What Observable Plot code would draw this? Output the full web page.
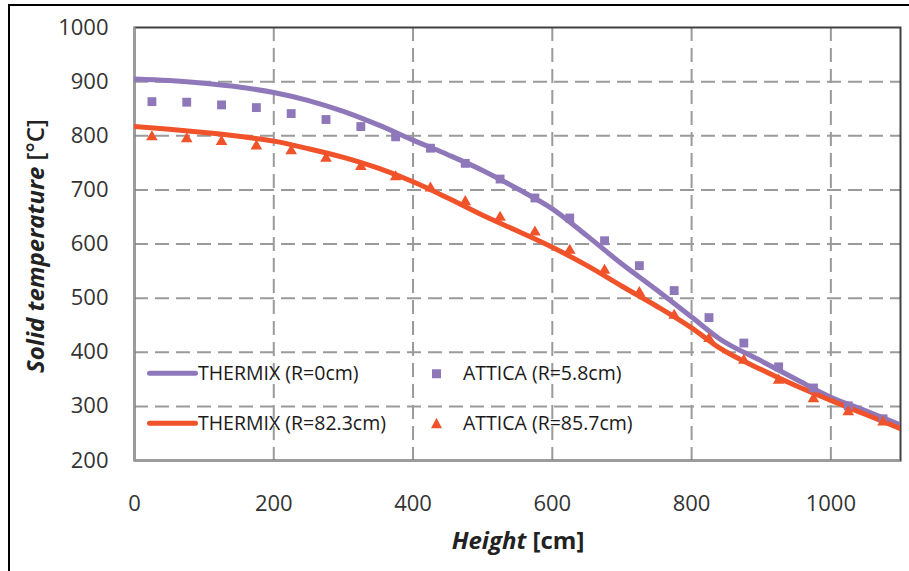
<!DOCTYPE html>
<html><head><meta charset="utf-8">
<script src="https://cdn.jsdelivr.net/npm/d3@7"></script>
<script src="https://cdn.jsdelivr.net/npm/@observablehq/plot@0.6"></script>
<style>
body{margin:0;background:#fff;font-family:"Open Sans",sans-serif;}
#wrap{position:relative;width:909px;height:571px;overflow:hidden;background:#fff;}
#border{position:absolute;left:8px;top:4px;width:1000px;height:1000px;border-left:2.5px solid #000;border-top:2.5px solid #000;box-sizing:border-box;pointer-events:none}
.leg{position:absolute;font-size:19.5px;color:#1a1a1a;line-height:1;white-space:nowrap;display:flex;align-items:center;transform:translateY(-50%);}
.leg svg{display:block}
</style></head><body>
<div id="wrap"><div id="chart"></div><div id="border"></div><div id="legend"></div></div>
<script>
// THERMIX model curves (x = height in cm)
const thermixX    = [0, 50, 100, 150, 200, 250, 300, 350, 400, 450, 500, 550, 600, 650, 700, 750, 800, 840, 900, 950, 1000, 1050, 1100];
const thermixR0   = [905, 902, 897, 890, 880, 865, 845, 820, 792, 765, 736, 702, 665, 615, 563, 515, 465, 425, 384, 350, 317, 292, 266];
const thermixR823 = [817, 812, 806, 799, 790, 776, 760, 740, 715, 685, 653, 624, 594, 560, 522, 485, 445, 408, 368, 338, 311, 285, 259];
// ATTICA points
const atticaX     = [25, 75, 125, 175, 225, 275, 325, 375, 425, 475, 525, 575, 625, 675, 725, 775, 825, 875, 925, 975, 1025, 1075];
const atticaR58   = [863, 862, 857, 852, 841, 830, 817, 798, 777, 749, 720, 685, 648, 606, 560, 514, 464, 417, 373, 334, 301, 277];
const atticaR857  = [798, 794, 789, 781, 772, 758, 743, 724, 703, 678, 649, 622, 588, 551, 510, 468, 425, 385, 348, 314, 290, 271];
const seriesNames = ["THERMIX (R=0cm)", "THERMIX (R=82.3cm)", "ATTICA (R=5.8cm)", "ATTICA (R=85.7cm)"];
const seriesColors = ["#8F78BA", "#F0522A", "#8F78BA", "#F0522A"];
const xTicks = [0, 200, 400, 600, 800, 1000];
const yTicks = [200, 300, 400, 500, 600, 700, 800, 900, 1000];
const xGrid = [200, 400, 600, 800, 1000];
const yGrid = [300, 400, 500, 600, 700, 800, 900];
const xTitle = ["Height", " [cm]"];
const yTitle = ["Solid temperature", " [°C]"];

const lineData = thermixX.flatMap((x, i) => [
  {x, y: thermixR0[i], s: seriesNames[0]},
  {x, y: thermixR823[i], s: seriesNames[1]}
]);
const sqData = atticaX.map((x, i) => ({x, y: atticaR58[i]}));
const triData = atticaX.map((x, i) => ({x, y: atticaR857[i]}));

const gridStyle = {stroke: "#9a9a9a", strokeOpacity: 1, strokeWidth: 2, strokeDasharray: "14,7"};

const plot = Plot.plot({
  width: 909, height: 571,
  marginLeft: 134, marginRight: 9, marginTop: 27, marginBottom: 111,
  style: {fontFamily: "'Open Sans', sans-serif", fontSize: "22px", color: "#333", background: "transparent", overflow: "visible"},
  x: {domain: [0, 1100]},
  y: {domain: [200, 1000]},
  color: {domain: seriesNames, range: seriesColors},
  marks: [
    Plot.gridX(xGrid, gridStyle),
    Plot.gridY(yGrid, gridStyle),
    Plot.frame({stroke: "#404040", strokeWidth: 2}),
    Plot.ruleX([0], {stroke: "#9a9a9a", strokeWidth: 2}),
    Plot.ruleY([200], {stroke: "#9a9a9a", strokeWidth: 2}),
    Plot.axisX(xTicks, {tickSize: 0, tickPadding: 35, label: null, fontSize: 22, fill: "#333", tickFormat: d => String(d)}),
    Plot.axisY(yTicks, {tickSize: 0, tickPadding: 26, label: null, fontSize: 22, fill: "#333", tickFormat: d => String(d)}),
    Plot.line(lineData, {x: "x", y: "y", z: "s", stroke: "s", strokeWidth: 5, curve: "monotone-x", clip: true}),
    Plot.dot(sqData, {x: "x", y: "y", symbol: "square", r: 5, fill: seriesColors[2], stroke: null}),
    Plot.dot(triData, {x: "x", y: "y", symbol: "triangle", r: 4.3, fill: seriesColors[3], stroke: null})
  ]
});
document.getElementById("chart").appendChild(plot);

// axis titles with mixed styling
const svg = d3.select(plot);
const xt = svg.append("text").attr("x", 518).attr("y", 549).attr("text-anchor", "middle")
  .attr("font-size", 24).attr("font-weight", "bold").attr("fill", "#222");
xt.append("tspan").attr("font-style", "italic").text(xTitle[0]);
xt.append("tspan").text(xTitle[1]);
const yt = svg.append("text").attr("transform", "translate(44,246) rotate(-90)").attr("text-anchor", "middle")
  .attr("font-size", 24).attr("font-weight", "bold").attr("fill", "#222");
yt.append("tspan").attr("font-style", "italic").text(yTitle[0]);
yt.append("tspan").attr("font-weight", 600).text(yTitle[1]);

// legend (inside plot)
const legend = document.getElementById("legend");
const legItems = [
  {name: seriesNames[0], color: seriesColors[0], kind: "line", left: 147, top: 373},
  {name: seriesNames[1], color: seriesColors[1], kind: "line", left: 147, top: 423},
  {name: seriesNames[2], color: seriesColors[2], kind: "square", left: 430, top: 373},
  {name: seriesNames[3], color: seriesColors[3], kind: "triangle", left: 430, top: 423}
];
for (const it of legItems) {
  const d = document.createElement("div");
  d.className = "leg";
  d.style.left = it.left + "px";
  d.style.top = it.top + "px";
  let sw;
  if (it.kind === "line") {
    sw = `<svg width="51" height="10"><line x1="2.5" y1="5" x2="48.5" y2="5" stroke="${it.color}" stroke-width="5" stroke-linecap="round"/></svg>`;
  } else if (it.kind === "square") {
    sw = `<svg width="33" height="12"><rect x="2" y="2" width="9" height="9" fill="${it.color}"/></svg>`;
  } else {
    sw = `<svg width="33" height="12"><path d="M6.5,0.5 L12,11 L1,11 Z" fill="${it.color}"/></svg>`;
  }
  d.innerHTML = sw + `<span>${it.name}</span>`;
  legend.appendChild(d);
}
</script>
</body></html>
